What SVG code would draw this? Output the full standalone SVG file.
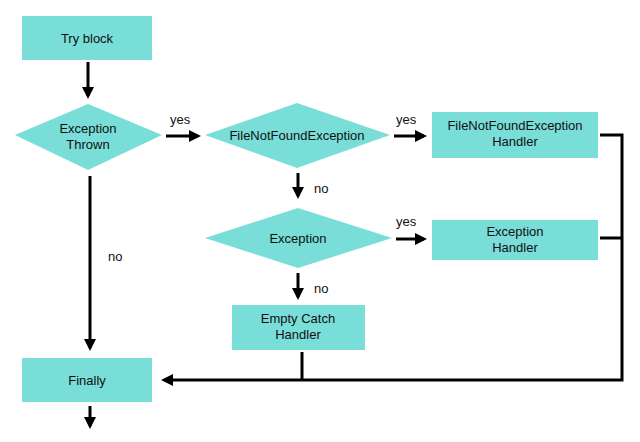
<svg xmlns="http://www.w3.org/2000/svg" width="640" height="442" viewBox="0 0 640 442">
<style>
.n{fill:#79ddd8}
.t{font-family:"Liberation Sans",Arial,sans-serif;font-size:13px;fill:#111;text-anchor:middle}
.l{font-family:"Liberation Sans",Arial,sans-serif;font-size:13px;fill:#111}
.c{stroke:#000;stroke-width:3;fill:none}
</style>
<defs><marker id="a" markerWidth="4" markerHeight="4" refX="3" refY="2" orient="auto"><path d="M0,0L4,2L0,4z" fill="#000"/></marker></defs>
<rect width="640" height="442" fill="#fff"/>
<g id="try"><rect class="n" x="22" y="16" width="130" height="44"/><text class="t" x="87" y="43">Try block</text></g>
<g id="thrown"><polygon class="n" points="15,135 88,104 162,135 88,170"/><text class="t" x="88" y="133">Exception</text><text class="t" x="88" y="149">Thrown</text></g>
<g id="fnf"><polygon class="n" points="205,135 297,103 390,135 297,168"/><text class="t" x="297" y="140">FileNotFoundException</text></g>
<g id="fnfh"><rect class="n" x="432" y="112" width="166" height="46"/><text class="t" x="515" y="130">FileNotFoundException</text><text class="t" x="515" y="146">Handler</text></g>
<g id="exc"><polygon class="n" points="205,238 298,208 392,238 298,268"/><text class="t" x="298" y="243">Exception</text></g>
<g id="exch"><rect class="n" x="432" y="220" width="166" height="40"/><text class="t" x="515" y="236">Exception</text><text class="t" x="515" y="252">Handler</text></g>
<g id="empty"><rect class="n" x="232" y="305" width="133" height="45"/><text class="t" x="298" y="323">Empty Catch</text><text class="t" x="298" y="339">Handler</text></g>
<g id="finally"><rect class="n" x="22" y="358" width="130" height="44"/><text class="t" x="87" y="385">Finally</text></g>
<g id="connectors">
<path class="c" d="M88,62V96" marker-end="url(#a)"/>
<path class="c" d="M166,136H198" marker-end="url(#a)"/>
<path class="c" d="M394,136H424" marker-end="url(#a)"/>
<path class="c" d="M298,173V196" marker-end="url(#a)"/>
<path class="c" d="M396,239H424" marker-end="url(#a)"/>
<path class="c" d="M298,273V297" marker-end="url(#a)"/>
<path class="c" d="M90,176V348" marker-end="url(#a)"/>
<path class="c" d="M600,135H622V380H164" marker-end="url(#a)"/>
<path class="c" d="M600,238H622"/>
<path class="c" d="M302,352V380"/>
<path class="c" d="M90,406V426" marker-end="url(#a)"/>
<text class="l" x="170" y="124">yes</text>
<text class="l" x="396" y="124">yes</text>
<text class="l" x="396" y="226">yes</text>
<text class="l" x="314" y="193">no</text>
<text class="l" x="314" y="293">no</text>
<text class="l" x="108" y="261">no</text>
</g>
</svg>
